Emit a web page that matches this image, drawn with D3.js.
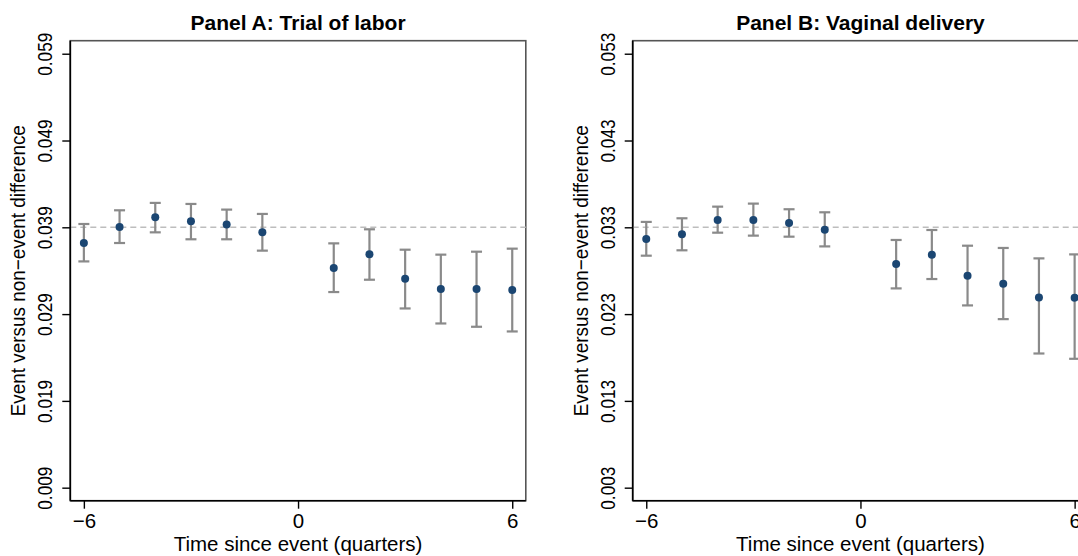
<!DOCTYPE html>
<html>
<head>
<meta charset="utf-8">
<script src="https://cdn.jsdelivr.net/npm/d3@7/dist/d3.min.js"></script>
<style>
  html, body { margin: 0; padding: 0; background: #fff; }
  svg { display: block; font-family: "Liberation Sans", Arial, Helvetica, sans-serif; }
</style>
</head>
<body>
<svg id="chart" width="1078" height="556"></svg>
<script>
// Event-study estimates by quarter relative to the event
const quarters = [-6, -5, -4, -3, -2, -1, 1, 2, 3, 4, 5, 6];
const xTicks = [-6, 0, 6];

// Panel A: trial of labor
const trialEst   = [0.03719, 0.03904, 0.04015, 0.03969, 0.03931, 0.03842, 0.03431, 0.03589, 0.03308, 0.03188, 0.03188, 0.03177];
const trialLower = [0.03507, 0.03719, 0.03842, 0.03762, 0.03762, 0.03631, 0.03154, 0.03296, 0.02965, 0.02792, 0.02754, 0.02700];
const trialUpper = [0.03938, 0.04096, 0.04181, 0.04169, 0.04104, 0.04054, 0.03715, 0.03877, 0.03642, 0.03585, 0.03619, 0.03654];
const trialBaseline = 0.039;
const trialTicks = [0.009, 0.019, 0.029, 0.039, 0.049, 0.059];

// Panel B: vaginal delivery
const vagEst   = [0.03165, 0.03219, 0.03385, 0.03385, 0.03350, 0.03273, 0.02877, 0.02985, 0.02742, 0.02650, 0.02492, 0.02488];
const vagLower = [0.02973, 0.03035, 0.03238, 0.03204, 0.03192, 0.03080, 0.02596, 0.02704, 0.02400, 0.02242, 0.01846, 0.01785];
const vagUpper = [0.03362, 0.03404, 0.03538, 0.03573, 0.03508, 0.03473, 0.03154, 0.03269, 0.03088, 0.03062, 0.02942, 0.02988];
const vagBaseline = 0.033;
const vagTicks = [0.003, 0.013, 0.023, 0.033, 0.043, 0.053];

const panels = [
  { title: "Panel A: Trial of labor", est: trialEst, lo: trialLower, hi: trialUpper,
    base: trialBaseline, ticks: trialTicks, left: 70.3 },
  { title: "Panel B: Vaginal delivery", est: vagEst, lo: vagLower, hi: vagUpper,
    base: vagBaseline, ticks: vagTicks, left: 632.7 }
];

const svg = d3.select("#chart");
const plotW = 455.5, plotTop = 40.7, plotBottom = 500.7;
const fontSize = 21;
const pointColor = "#1b4672";
const barColor = "#8a8a8a";

panels.forEach(p => {
  const x = d3.scaleLinear().domain([-6.38, 6.38]).range([p.left, p.left + plotW]);
  const yMin = d3.min(p.ticks) - 0.0015, yMax = d3.max(p.ticks) + 0.0015;
  const y = d3.scaleLinear().domain([yMin, yMax]).range([plotBottom, plotTop]);
  const g = svg.append("g");

  // plot frame
  g.append("rect")
    .attr("x", p.left).attr("y", plotTop)
    .attr("width", plotW).attr("height", plotBottom - plotTop)
    .attr("fill", "none").attr("stroke", "#555").attr("stroke-width", 1.6);

  // reference line at the pre-period level
  g.append("line")
    .attr("x1", p.left).attr("x2", p.left + plotW)
    .attr("y1", y(p.base)).attr("y2", y(p.base))
    .attr("stroke", "#bdbdbd").attr("stroke-width", 1.6)
    .attr("stroke-dasharray", "6,4");

  // x axis
  const xAxis = g.append("g")
    .attr("transform", `translate(0,${plotBottom})`)
    .call(d3.axisBottom(x).tickValues(xTicks).tickSize(8).tickPadding(4)
      .tickFormat(d => d < 0 ? "\u2212" + Math.abs(d) : String(d)));
  xAxis.select(".domain").attr("stroke", "#000").attr("stroke-width", 1.6)
    .attr("d", `M${p.left},0H${p.left + plotW}`);
  xAxis.selectAll(".tick line").attr("stroke", "#000").attr("stroke-width", 1.4);
  xAxis.selectAll(".tick text").attr("font-size", 20.5).attr("fill", "#000")
    .attr("font-family", "Liberation Sans, Arial, sans-serif")
    .attr("y", 27).attr("dy", 0);

  // y axis
  const yAxis = g.append("g")
    .attr("transform", `translate(${p.left},0)`)
    .call(d3.axisLeft(y).tickValues(p.ticks).tickSize(8).tickFormat(d3.format(".3f")));
  yAxis.select(".domain").attr("stroke", "#000").attr("stroke-width", 1.6)
    .attr("d", `M0,${plotTop}V${plotBottom}`);
  yAxis.selectAll(".tick line").attr("stroke", "#000").attr("stroke-width", 1.4);
  yAxis.selectAll(".tick text").remove();
  yAxis.selectAll(".tick").append("text")
    .attr("transform", "translate(-18,0) rotate(-90) scale(0.82,1)")
    .attr("text-anchor", "middle")
    .attr("font-size", fontSize).attr("fill", "#000")
    .attr("font-family", "Liberation Sans, Arial, sans-serif")
    .text(d => d3.format(".3f")(d));

  // error bars
  const bars = g.append("g").selectAll("g").data(quarters).join("g");
  bars.append("line")
    .attr("x1", (d) => x(d)).attr("x2", (d) => x(d))
    .attr("y1", (d, i) => y(p.lo[i])).attr("y2", (d, i) => y(p.hi[i]))
    .attr("stroke", barColor).attr("stroke-width", 2.2);
  ["lo", "hi"].forEach(k => {
    bars.append("line")
      .attr("x1", d => x(d) - 5.5).attr("x2", d => x(d) + 5.5)
      .attr("y1", (d, i) => y(p[k][i])).attr("y2", (d, i) => y(p[k][i]))
      .attr("stroke", barColor).attr("stroke-width", 2.2);
  });

  // point estimates
  g.append("g").selectAll("circle").data(quarters).join("circle")
    .attr("cx", d => x(d)).attr("cy", (d, i) => y(p.est[i]))
    .attr("r", 4).attr("fill", pointColor);

  // titles
  const cx = p.left + plotW / 2;
  g.append("text").attr("x", cx).attr("y", 29.5)
    .attr("text-anchor", "middle").attr("font-weight", "bold")
    .attr("font-size", fontSize).text(p.title);
  g.append("text").attr("x", cx).attr("y", 550.5)
    .attr("text-anchor", "middle").attr("font-size", 20.5)
    .text("Time since event (quarters)");
  g.append("text")
    .attr("transform", `translate(${p.left - 45},${(plotTop + plotBottom) / 2}) rotate(-90) scale(0.9,1)`)
    .attr("text-anchor", "middle").attr("font-size", fontSize)
    .text("Event versus non\u2212event difference");
});
</script>
</body>
</html>
